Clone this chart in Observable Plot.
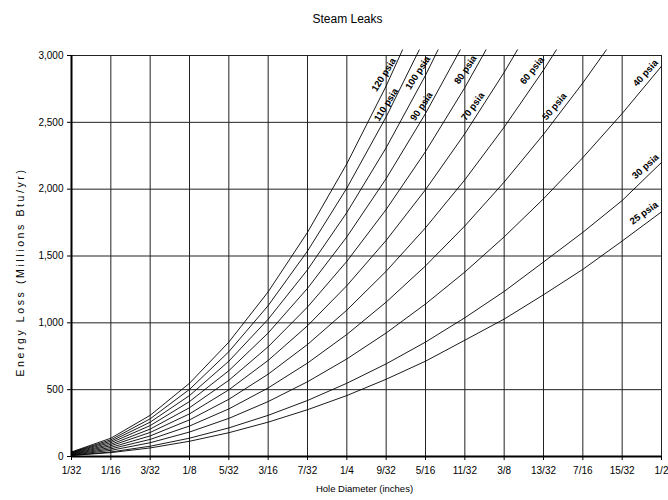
<!DOCTYPE html>
<html>
<head>
<meta charset="utf-8">
<script src="https://cdn.jsdelivr.net/npm/d3@7"></script>
<script src="https://cdn.jsdelivr.net/npm/@observablehq/plot@0.6"></script>
<style>
  body { margin: 0; background: #fff; }
  svg { display: block; }
</style>
</head>
<body>
<div id="chart"></div>
<script>
// Hole diameters (inches) and their tick labels
const diameters = [0.03125, 0.0625, 0.09375, 0.125, 0.15625, 0.1875, 0.21875, 0.25,
                   0.28125, 0.3125, 0.34375, 0.375, 0.40625, 0.4375, 0.46875, 0.5];
const diameterLabels = ["1/32", "1/16", "3/32", "1/8", "5/32", "3/16", "7/32", "1/4",
                        "9/32", "5/16", "11/32", "3/8", "13/32", "7/16", "15/32", "1/2"];
const yTicks = [0, 500, 1000, 1500, 2000, 2500, 3000];

// Energy loss (Millions Btu/yr) per pressure, read at each diameter
const loss25  = [7, 29, 64, 114, 178, 257, 350, 456, 578, 713, 870, 1028, 1210, 1400, 1612, 1830];
const loss30  = [9, 34, 77, 137, 214, 308, 419, 548, 693, 856, 1038, 1235, 1455, 1677, 1915, 2200];
const loss40  = [11, 46, 103, 183, 285, 411, 559, 730, 924, 1141, 1380, 1643, 1928, 2236, 2566, 2920];
const loss50  = [14, 57, 128, 228, 356, 513, 699, 913, 1155, 1426, 1725, 2053, 2410, 2795, 3208];
const loss60  = [17, 68, 154, 274, 428, 616, 838, 1095, 1386, 1711, 2070, 2464, 2891, 3353];
const loss70  = [20, 80, 180, 319, 499, 719, 978, 1278, 1617, 1996, 2415, 2874, 3373];
const loss80  = [23, 91, 205, 365, 570, 821, 1118, 1460, 1848, 2281, 2760, 3285];
const loss90  = [26, 103, 231, 411, 642, 924, 1258, 1643, 2079, 2566, 3105];
const loss100 = [29, 114, 257, 456, 713, 1027, 1397, 1825, 2310, 2852, 3450];
const loss110 = [31, 125, 282, 502, 784, 1129, 1537, 2008, 2541, 3137];
const loss120 = [34, 137, 308, 548, 856, 1232, 1677, 2190, 2772, 3422];

const seriesNames = ["25 psia", "30 psia", "40 psia", "50 psia", "60 psia", "70 psia",
                     "80 psia", "90 psia", "100 psia", "110 psia", "120 psia"];
const seriesValues = [loss25, loss30, loss40, loss50, loss60, loss70,
                      loss80, loss90, loss100, loss110, loss120];

// Label anchor points (data units) for the in-chart series labels
const labelX = [0.4876, 0.4889, 0.4889, 0.4166, 0.3988, 0.3517, 0.3459, 0.3109, 0.3080, 0.2828, 0.2810];
const labelY = [1814, 2163, 2861, 2611, 2880, 2611, 2886, 2611, 2863, 2624, 2848];
const labelAngle = [-36, -42, -48, -50, -52, -54, -56, -56, -57, -58, -58];

const rows = [];
seriesValues.forEach((vals, i) => {
  vals.forEach((v, j) => rows.push({series: seriesNames[i], d: diameters[j], v}));
});
const labels = seriesNames.map((name, i) => ({name, x: labelX[i], y: labelY[i], r: labelAngle[i]}));

const FONT = "'Liberation Sans', Arial, sans-serif";

const chart = Plot.plot({
  width: 668,
  height: 500,
  marginLeft: 71,
  marginRight: 7,
  marginTop: 55,
  marginBottom: 44,
  style: {fontFamily: FONT, fontSize: "10px", color: "#000", background: "#fff"},
  x: {domain: [diameters[0], diameters[diameters.length - 1]]},
  y: {domain: [0, 3000]},
  marks: [
    Plot.gridX(diameters, {stroke: "#222", strokeOpacity: 1, strokeWidth: 1}),
    Plot.gridY(yTicks, {stroke: "#222", strokeOpacity: 1, strokeWidth: 1}),
    Plot.line(rows, {x: "d", y: "v", z: "series", stroke: "#000", strokeWidth: 0.9, className: "curves"}),
    Plot.ruleX([diameters[0]], {stroke: "#000", strokeWidth: 2}),
    Plot.ruleY([0], {stroke: "#000", strokeWidth: 2}),
    Plot.axisX(diameters, {
      tickSize: 4, tickPadding: 6, label: null,
      tickFormat: d => diameterLabels[diameters.indexOf(d)],
      fontSize: 10
    }),
    Plot.axisY(yTicks, {
      tickSize: 4, tickPadding: 4, label: null,
      tickFormat: d3.format(","), fontSize: 10
    }),
    Plot.text(labels, {
      x: "x", y: "y", text: "name", rotate: "r", dx: -2, dy: -1,
      fontWeight: "bold", fontSize: 9.5, fill: "#000", textAnchor: "middle"
    }),
    Plot.text(["Hole Diameter (inches)"], {frameAnchor: "bottom", dy: 35, fontSize: 9.5, dx: -2, textAnchor: "middle"}),
    Plot.text(["Energy Loss (Millions Btu/yr)"], {
      frameAnchor: "left", dx: -51, dy: 16, rotate: -90, fontSize: 10.5,
      textAnchor: "middle", className: "ylab"
    }),
    Plot.text(["Steam Leaks"], {frameAnchor: "top", dy: -41, dx: -19, fontSize: 12, textAnchor: "middle"})
  ]
});

// Letter-spaced y-axis title, as in the original rendering
d3.select(chart).selectAll(".ylab text").style("letter-spacing", "2.6px");

// Curves may run slightly above the plot frame before being cut, like the original
const sx = chart.scale("x"), sy = chart.scale("y");
const x0 = sx.apply(diameters[0]), x1 = sx.apply(diameters[diameters.length - 1]);
const yTop = sy.apply(yTicks[yTicks.length - 1]) - 6, yBot = sy.apply(0);
const defs = d3.select(chart).insert("defs", ":first-child");
defs.append("clipPath").attr("id", "curveclip")
  .append("rect").attr("x", x0).attr("y", yTop).attr("width", x1 - x0).attr("height", yBot - yTop);
d3.select(chart).selectAll("g.curves").attr("clip-path", "url(#curveclip)");

document.getElementById("chart").appendChild(chart);
</script>
</body>
</html>
